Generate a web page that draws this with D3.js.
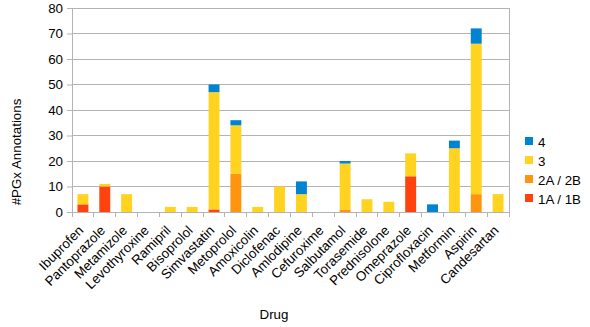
<!DOCTYPE html>
<html><head><meta charset="utf-8">
<script src="https://cdn.jsdelivr.net/npm/d3@7"></script>
<style>body{margin:0;background:#fff}svg{display:block;font-family:"Liberation Sans",Arial,sans-serif}</style>
</head><body><svg id="c" width="590" height="327"></svg>
<script>
const drugs = ["Ibuprofen","Pantoprazole","Metamizole","Levothyroxine","Ramipril","Bisoprolol","Simvastatin","Metoprolol","Amoxicolin","Diclofenac","Amlodipine","Cefuroxime","Salbutamol","Torasemide","Prednisolone","Omeprazole","Ciprofloxacin","Metformin","Aspirin","Candesartan"];
const level1 = [3,10,0,0,0,0,1,0,0,0,0,0,0,0,0,14,0,0,0,0];
const level2 = [0,0,0,0,0,0,0,15,0,0,0,0,1,0,0,0,0,0,7,0];
const level3 = [4,1,7,0,2,2,46,19,2,10,7,0,18,5,4,9,0,25,59,7];
const level4 = [0,0,0,0,0,0,3,2,0,0,5,0,1,0,0,0,3,3,6,0];
const seriesNames = ["1A / 1B","2A / 2B","3","4"];
const seriesColors = ["#ff420e","#ff950e","#ffd320","#0084d1"];
const yTicks = [0,10,20,30,40,50,60,70,80];

const svg = d3.select("#c");
const FS = 13.33;
const m = {l:72, r:509, t:8, b:212};
const x = d3.scaleBand().domain(drugs).range([m.l, m.r]).paddingInner(0.5).paddingOuter(0.25);
const y = d3.scaleLinear().domain([0,80]).range([m.b, m.t]);
const grid = "#b3b3b3";

// gridlines
svg.append("g").selectAll("line").data(yTicks).join("line")
  .attr("x1", m.l).attr("x2", m.r).attr("y1", d=>y(d)).attr("y2", d=>y(d))
  .attr("stroke", grid).attr("stroke-width",1).attr("shape-rendering","crispEdges");
// right border
svg.append("line").attr("x1",m.r).attr("x2",m.r).attr("y1",m.t).attr("y2",m.b).attr("stroke",grid).attr("shape-rendering","crispEdges");

const table = drugs.map((d,i)=>({drug:d, s0:level1[i], s1:level2[i], s2:level3[i], s3:level4[i]}));
const stack = d3.stack().keys(["s0","s1","s2","s3"])(table);
svg.append("g").selectAll("g").data(stack).join("g").attr("fill",(d,i)=>seriesColors[i])
  .selectAll("rect").data(d=>d).join("rect")
  .attr("x", d=>x(d.data.drug)).attr("width", x.bandwidth())
  .attr("y", d=>y(d[1])).attr("height", d=>y(d[0])-y(d[1]));

// y axis
const yAxis = d3.axisLeft(y).tickValues(yTicks).tickSize(5).tickPadding(4);
const ya = svg.append("g").attr("transform",`translate(${m.l},0)`).call(yAxis);
ya.select(".domain").attr("stroke",grid);
ya.selectAll(".tick line").attr("stroke",grid);
ya.selectAll("text").attr("font-size",FS).attr("fill","#000").attr("font-family","Liberation Sans, Arial, sans-serif");

// x axis
const xa = svg.append("g").attr("transform",`translate(0,${m.b})`);
xa.append("line").attr("x1",m.l).attr("x2",m.r).attr("stroke",grid).attr("shape-rendering","crispEdges");
const bounds = d3.range(drugs.length+1).map(i=>m.l + (m.r-m.l)*i/drugs.length);
xa.selectAll(".bt").data(bounds).join("line").attr("class","bt")
  .attr("x1",d=>d).attr("x2",d=>d).attr("y1",0).attr("y2",5).attr("stroke",grid).attr("shape-rendering","crispEdges");
xa.selectAll(".lbl").data(drugs).join("text").attr("class","lbl")
  .attr("transform", d=>`translate(${x(d)+x.bandwidth()/2-2},${16}) rotate(-45)`)
  .attr("text-anchor","end").attr("font-size",FS).attr("fill","#000").attr("dy","0.35em")
  .text(d=>d);

// axis titles
svg.append("text").attr("x",274).attr("y",319).attr("text-anchor","middle").attr("font-size",FS).text("Drug");
svg.append("text").attr("transform","translate(21,152) rotate(-90)").attr("text-anchor","middle").attr("font-size",FS).text("#PGx Annotations");

// legend
const lg = svg.append("g");
const order = [3,2,1,0];
order.forEach((si,k)=>{
  const yy = 142 + k*19;
  lg.append("rect").attr("x",525).attr("y",yy-5).attr("width",8).attr("height",8).attr("fill",seriesColors[si]);
  lg.append("text").attr("x",538).attr("y",yy).attr("dy","0.35em").attr("font-size",FS).text(seriesNames[si]);
});
</script></body></html>
